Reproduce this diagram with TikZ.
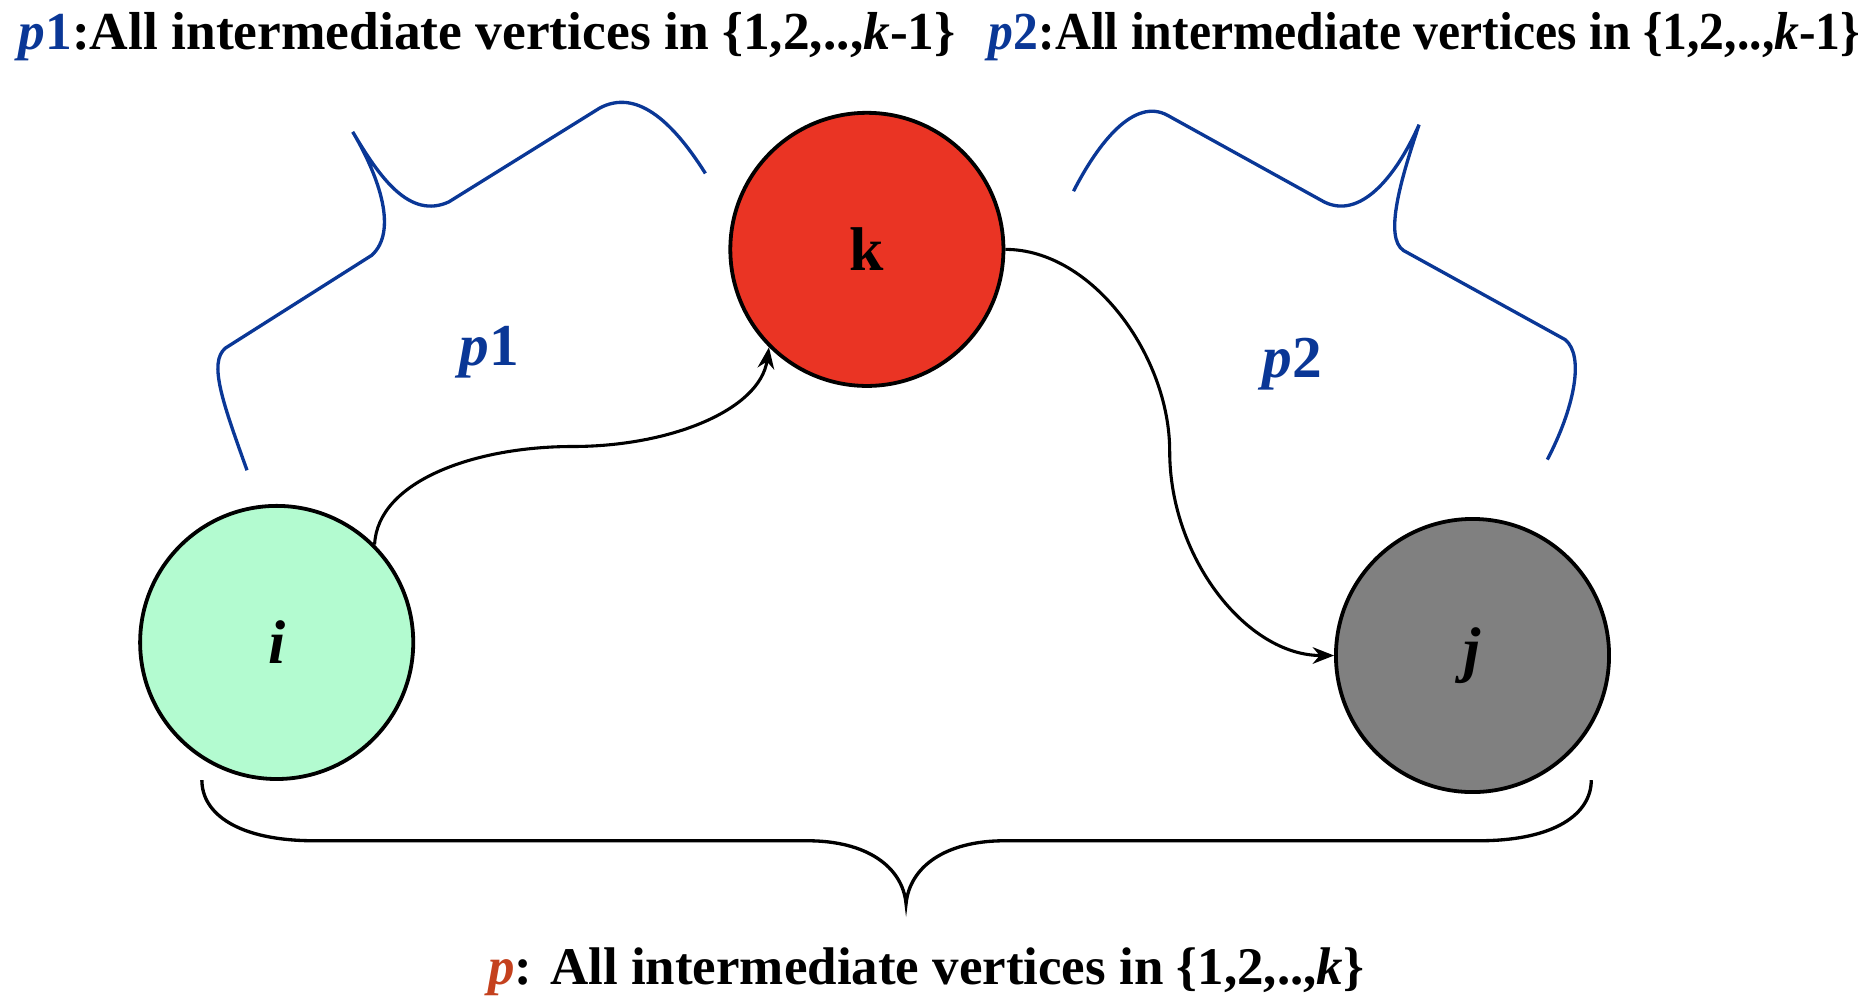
\documentclass[tikz,border=0pt]{standalone}
\usepackage{fontspec}
\setmainfont{Liberation Serif}
\usetikzlibrary{arrows.meta}
\definecolor{pathblue}{RGB}{10,55,150}
\definecolor{pathred}{RGB}{196,65,30}
\definecolor{knodered}{RGB}{234,52,36}
\definecolor{inodegreen}{RGB}{179,251,208}
\definecolor{jnodegray}{RGB}{128,128,128}
\tikzset{every picture/.style={line width=0.75pt}}
\tikzset{
	vertex/.style={circle, draw=black, line width=1.6pt, minimum size=115pt, inner sep=0pt, font=\fontsize{26}{29}\selectfont\bfseries},
	bluebrace/.style={draw=pathblue, line width=1.4pt},
	blackbrace/.style={draw=black, line width=1.4pt},
	pathlabel/.style={text=pathblue, font=\fontsize{25}{28}\selectfont\bfseries},
	headline/.style={anchor=west, inner sep=0pt, font=\fontsize{22.5}{26}\selectfont\bfseries}}

\begin{document}
\begin{tikzpicture}[x=0.5pt,y=0.5pt,yscale=-1,xscale=1]
	\useasboundingbox (0,0) rectangle (1568,847);

	%Shape: Circle [id:vi]
	\node [vertex, fill=inodegreen] (i) at (233,541) {\itshape i};
	%Shape: Circle [id:vk]
	\node [vertex, fill=knodered] (k) at (730,210) {k};
	%Shape: Circle [id:vj]
	\node [vertex, fill=jnodegray] (j) at (1240,552) {\itshape j};

	%Curve Lines [id:ik]
	\draw [-{Stealth[length=9pt,width=7pt]}, line width=1.3pt] (i.45) .. controls (318,405) and (400,376) .. (482,376) .. controls (565,376) and (640,345) .. (k.225);
	%Curve Lines [id:kj]
	\draw [-{Stealth[length=9pt,width=7pt]}, line width=1.3pt] (k.east) .. controls (920,210) and (985,300) .. (985,380) .. controls (985,470) and (1050,552) .. (j.west);

	%Shape: Brace [id:bp1]
	\draw [bluebrace] (208,396) .. controls (188,340) and (175,305) .. (190,293) -- (313,215) .. controls (335,195) and (320,150) .. (297,111) .. controls (320,150) and (345,185) .. (378,170) -- (505,91) .. controls (535,75) and (565,100) .. (594,146) ;
	%Shape: Brace [id:bp2]
	\draw [bluebrace] (904,161) .. controls (925,120) and (955,82) .. (983,97) -- (1115,170) .. controls (1145,185) and (1175,150) .. (1195,105) .. controls (1180,150) and (1165,200) .. (1182,211) -- (1318,286) .. controls (1335,300) and (1325,345) .. (1303,387) ;
	%Shape: Brace [id:bp]
	\draw [blackbrace] (170,657) .. controls (170,685) and (200,708) .. (265,708) -- (680,708) .. controls (730,708) and (760,730) .. (763,761) .. controls (766,730) and (796,708) .. (846,708) -- (1245,708) .. controls (1310,708) and (1340,685) .. (1340,657) ;

	% Text Node
	\node [pathlabel] (lp1) at (412,297) {\itshape p\upshape 1};
	% Text Node
	\node [pathlabel] (lp2) at (1088,307) {\itshape p\upshape 2};
	% Text Node
	\node [headline] (hp1) at (15,31) {\textcolor{pathblue}{\itshape p\upshape 1}:All intermediate vertices in \{1,2,..,\textit{k}-1\}};
	% Text Node
	\node [headline] (hp2) at (832,31) {\scalebox{0.93}[1]{\textcolor{pathblue}{\itshape p\upshape 2}:All intermediate vertices in \{1,2,..,\textit{k}-1\}}};
	% Text Node
	\node [headline, anchor=center, font=\fontsize{22.3}{26}\selectfont\bfseries] (hp) at (780,818) {\textcolor{pathred}{\itshape p}: All intermediate vertices in \{1,2,..,\textit{k}\}};

\end{tikzpicture}
\end{document}
